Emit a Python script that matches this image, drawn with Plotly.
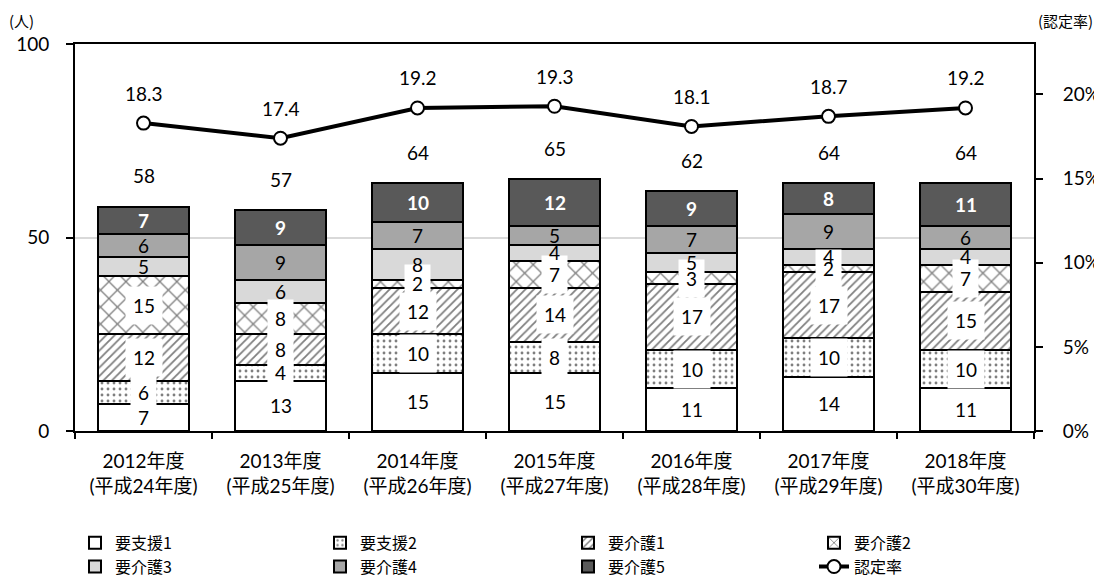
import plotly.graph_objects as go

# ---------------- data ----------------
years = ["2012年度", "2013年度", "2014年度", "2015年度", "2016年度", "2017年度", "2018年度"]
heisei = ["(平成24年度)", "(平成25年度)", "(平成26年度)", "(平成27年度)", "(平成28年度)", "(平成29年度)", "(平成30年度)"]
categories = [f"{a}<br>{b}" for a, b in zip(years, heisei)]

series_names = ["要支援1", "要支援2", "要介護1", "要介護2", "要介護3", "要介護4", "要介護5"]
shien1 = [7, 13, 15, 15, 11, 14, 11]
shien2 = [6, 4, 10, 8, 10, 10, 10]
kaigo1 = [12, 8, 12, 14, 17, 17, 15]
kaigo2 = [15, 8, 2, 7, 3, 2, 7]
kaigo3 = [5, 6, 8, 4, 5, 4, 4]
kaigo4 = [6, 9, 7, 5, 7, 9, 6]
kaigo5 = [7, 9, 10, 12, 9, 8, 11]
rate = [18.3, 17.4, 19.2, 19.3, 18.1, 18.7, 19.2]
rate_name = "認定率"

series_values = [shien1, shien2, kaigo1, kaigo2, kaigo3, kaigo4, kaigo5]

# ---------------- styles ----------------
LAT = "Lato, 'Noto Sans CJK JP', sans-serif"
CJK = "'Noto Sans CJK JP', sans-serif"
FS = 19

styles = [
    dict(color="white", pattern=None),
    dict(color="white", pattern=dict(shape=".", fgcolor="black", bgcolor="white", size=6, solidity=0.18)),
    dict(color="white", pattern=dict(shape="/", fgcolor="black", bgcolor="white", size=6, solidity=0.3)),
    dict(color="white", pattern=dict(shape="x", fgcolor="black", bgcolor="white", size=12, solidity=0.2)),
    dict(color="#d9d9d9", pattern=None),
    dict(color="#a6a6a6", pattern=None),
    dict(color="#595959", pattern=None),
]
boxed = [False, True, True, True, False, False, False]
# legend column for each series (4 columns x 2 rows)
legend_ids = ["legend", "legend2", "legend3", "legend4", "legend", "legend2", "legend3"]

fig = go.Figure()

for name, vals, st, lg in zip(series_names, series_values, styles, legend_ids):
    marker = dict(color=st["color"], line=dict(color="black", width=2))
    if st["pattern"] is not None:
        marker["pattern"] = st["pattern"]
    fig.add_trace(go.Bar(x=categories, y=vals, name=name, marker=marker,
                         legend=lg, hoverinfo="skip"))

fig.add_trace(go.Scatter(
    x=categories, y=rate, name=rate_name, yaxis="y2", mode="lines+markers",
    line=dict(color="black", width=4), legend="legend4",
    marker=dict(size=13, color="white", line=dict(color="black", width=2)),
    hoverinfo="skip"))

# ---------------- labels ----------------
box_anns = []
text_anns = []
n = len(categories)
totals = [sum(v[i] for v in series_values) for i in range(n)]
for i, cat in enumerate(categories):
    base = 0
    for s, vals in enumerate(series_values):
        v = vals[i]
        mid = base + v / 2
        base += v
        if boxed[s]:
            box_anns.append(dict(x=cat, y=mid, xref="x", yref="y", text=str(v),
                                 showarrow=False, bgcolor="white", borderpad=7,
                                 font=dict(family=LAT, size=FS, color="rgba(0,0,0,0)")))
        if s == 6:
            f = dict(family=LAT, size=FS, color="white")
            txt = f"<b>{v}</b>"
        else:
            f = dict(family=LAT, size=FS, color="black")
            txt = str(v)
        text_anns.append(dict(x=cat, y=mid, xref="x", yref="y", text=txt,
                              showarrow=False, font=f))
    text_anns.append(dict(x=cat, y=totals[i], xref="x", yref="y", text=str(totals[i]),
                          showarrow=False, yshift=31,
                          font=dict(family=LAT, size=FS, color="black")))
    text_anns.append(dict(x=cat, y=rate[i], xref="x", yref="y2", text=f"{rate[i]:.1f}",
                          showarrow=False, yshift=30,
                          font=dict(family=LAT, size=FS, color="black")))

leg_common = dict(orientation="v", xanchor="left", y=-0.245, yanchor="top",
                  traceorder="normal", bgcolor="rgba(0,0,0,0)",
                  font=dict(family=CJK, size=16, color="black"), tracegroupgap=0)

fig.update_layout(
    width=1094, height=570,
    margin=dict(l=67, r=68, t=36, b=147, autoexpand=False),
    paper_bgcolor="white", plot_bgcolor="white",
    barmode="stack", bargap=0.336,
    font=dict(family=LAT, size=FS, color="black"),
    showlegend=True,
    legend=dict(x=0.0, **leg_common),
    legend2=dict(x=0.2555, **leg_common),
    legend3=dict(x=0.5141, **leg_common),
    legend4=dict(x=0.7706, **leg_common),
    xaxis=dict(showline=True, linecolor="black", linewidth=2, mirror=True,
               ticks="outside", tickson="boundaries", ticklen=6, tickwidth=1.5,
               tickcolor="black", tickfont=dict(family=LAT, size=FS),
               ticklabelstandoff=12, showgrid=False),
    yaxis=dict(range=[0, 100], dtick=50, showline=True, linecolor="black", linewidth=2,
               ticks="outside", ticklen=7, tickwidth=1.5, tickcolor="black",
               showgrid=True, gridcolor="#d9d9d9", gridwidth=1.5, zeroline=False,
               tickfont=dict(family=LAT, size=FS), ticklabelstandoff=13),
    yaxis2=dict(range=[0, 23], overlaying="y", side="right", tickvals=[0, 5, 10, 15, 20],
                ticktext=["0%", "5%", "10%", "15%", "20%"],
                showline=True, linecolor="black", linewidth=2,
                ticks="outside", ticklen=7, tickwidth=1.5, tickcolor="black",
                showgrid=False, zeroline=False,
                tickfont=dict(family=LAT, size=FS), ticklabelstandoff=16),
    annotations=box_anns + text_anns + [
        dict(x=0, y=1, xref="paper", yref="paper", xanchor="center", yanchor="middle",
             xshift=-54, yshift=24, text="(人)", showarrow=False,
             font=dict(family=CJK, size=15)),
        dict(x=1, y=1, xref="paper", yref="paper", xanchor="center", yanchor="middle",
             xshift=31, yshift=24, text="(認定率)", showarrow=False,
             font=dict(family=CJK, size=15)),
    ],
)

fig.write_html("out.html")
